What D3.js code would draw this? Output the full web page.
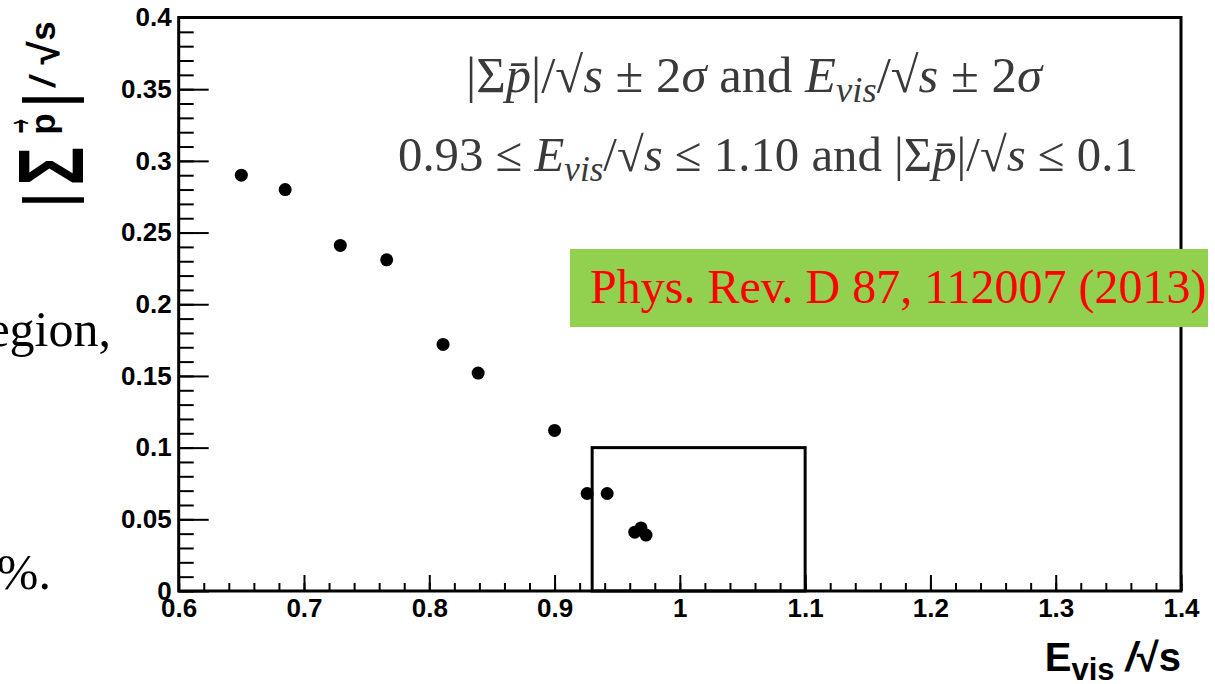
<!DOCTYPE html>
<html lang="en">
<head>
<meta charset="UTF-8">
<title>Evis vs |sum p|</title>
<script src="https://d3js.org/d3.v7.min.js"></script>
<style>
  body { margin: 0; background: #fff; }
  svg { display: block; }
  .tick text { font-family: "Liberation Sans", Arial, sans-serif; font-weight: bold; font-size: 26px; fill: #000; }
  .tick line { stroke: #000; stroke-width: 2; }
  .serif { font-family: "Liberation Serif", "Times New Roman", serif; }
  .sans { font-family: "Liberation Sans", Arial, sans-serif; font-weight: bold; }
</style>
</head>
<body>
<script>
    const width = 1215;
    const height = 684;

    // values
    const evis = [0.650, 0.685, 0.729, 0.766, 0.811, 0.839, 0.900, 0.926, 0.942, 0.964, 0.969, 0.973];
    const psum = [0.290, 0.280, 0.241, 0.231, 0.172, 0.152, 0.112, 0.068, 0.068, 0.041, 0.044, 0.039];
    const cutEvis = [0.93, 1.10];
    const cutPsum = [0, 0.1];
    const xTicks = [0.6, 0.7, 0.8, 0.9, 1.0, 1.1, 1.2, 1.3, 1.4];
    const yTicks = [0, 0.05, 0.1, 0.15, 0.2, 0.25, 0.3, 0.35, 0.4];
    const xMinor = d3.range(30, 71).map(i => i / 50);
    const yMinor = d3.range(0, 41).map(i => i / 100);

    const svg = d3.select("body").append("svg")
            .attr("width", width).attr("height", height);

    const x = d3.scaleLinear().domain([0.6, 1.4]).range([178.7, 1181]);
    const y = d3.scaleLinear().domain([0, 0.4]).range([591, 17.5]);

    const fmt = d => String(+d.toFixed(2));

    // slide text cut by the left edge
    svg.append("text").attr("class", "serif")
            .attr("x", 111).attr("y", 346)
            .attr("text-anchor", "end")
            .style("font-size", "50px")
            .text("region,");
    svg.append("text").attr("class", "serif")
            .attr("x", 51).attr("y", 589)
            .attr("text-anchor", "end")
            .style("font-size", "50px")
            .text("%.");

    // minor ticks
    svg.append("g").attr("transform", `translate(${x(0.6)},0)`)
            .call(d3.axisLeft(y).tickValues(yMinor).tickSize(-15).tickFormat(""))
            .call(g => g.select(".domain").remove());
    svg.append("g").attr("transform", `translate(0,${y(0)})`)
            .call(d3.axisBottom(x).tickValues(xMinor).tickSize(-8).tickFormat(""))
            .call(g => g.select(".domain").remove());

    // major ticks + labels
    svg.append("g").attr("transform", `translate(${x(0.6)},0)`)
            .call(d3.axisLeft(y).tickValues(yTicks).tickSize(-30).tickPadding(7).tickFormat(fmt))
            .call(g => g.select(".domain").remove());
    svg.append("g").attr("transform", `translate(0,${y(0)})`)
            .call(d3.axisBottom(x).tickValues(xTicks).tickSize(-16).tickPadding(8).tickFormat(fmt))
            .call(g => g.select(".domain").remove());

    // frame
    svg.append("rect")
            .attr("x", x(0.6)).attr("y", y(0.4))
            .attr("width", x(1.4) - x(0.6)).attr("height", y(0) - y(0.4))
            .style("fill", "none").style("stroke", "#000").style("stroke-width", 3);

    // cut box
    svg.append("rect")
            .attr("x", x(cutEvis[0])).attr("y", y(cutPsum[1]))
            .attr("width", x(cutEvis[1]) - x(cutEvis[0]))
            .attr("height", y(cutPsum[0]) - y(cutPsum[1]))
            .style("fill", "none").style("stroke", "#000").style("stroke-width", 3);

    // points
    svg.selectAll("circle.pt")
            .data(d3.zip(evis, psum))
            .enter().append("circle")
            .attr("class", "pt")
            .attr("cx", d => x(d[0]))
            .attr("cy", d => y(d[1]))
            .attr("r", 6.5)
            .style("fill", "#000");

    // latex-like annotation lines, font size fitted to the target width
    function mathLine(xs, yb, target, parts) {
        const t = svg.append("text").attr("class", "serif")
                .attr("x", xs).attr("y", yb)
                .style("font-size", "34px").style("fill", "#3a3a3a");
        parts.forEach(p => {
            const s = t.append("tspan").text(p[0]);
            if (p[1] === "i") s.style("font-style", "italic");
            if (p[1] === "sub") s.style("font-style", "italic").style("font-size", "72%").attr("dy", "0.28em");
            if (p[1] === "up") s.attr("dy", "-0.2em");
        });
        const w = t.node().getComputedTextLength();
        t.style("font-size", (34 * target / w) + "px");
    }

    mathLine(466, 92, 576, [
        ["|Σ"], ["p̄", "i"], ["|/√"], ["s", "i"], [" ± 2"], ["σ", "i"],
        ["  and "], ["E", "i"], ["vis", "sub"], ["/√", "up"], ["s", "i"], [" ± 2"], ["σ", "i"]
    ]);
    mathLine(398, 171, 740, [
        ["0.93 ≤ "], ["E", "i"], ["vis", "sub"], ["/√", "up"], ["s", "i"], [" ≤ 1.10 and |Σ"],
        ["p̄", "i"], ["|/√"], ["s", "i"], [" ≤ 0.1"]
    ]);

    // reference label
    svg.append("rect")
            .attr("x", 570).attr("y", 249)
            .attr("width", 638).attr("height", 78)
            .style("fill", "#92d050");
    svg.append("text").attr("class", "serif")
            .attr("x", 590).attr("y", 303)
            .style("font-size", "48px").style("fill", "#ff0000")
            .text("Phys. Rev. D 87, 112007 (2013)");

    // x axis title
    const xt = svg.append("text").attr("class", "sans")
            .attr("x", 1181).attr("y", 671)
            .attr("text-anchor", "end")
            .style("font-size", "40px");
    xt.append("tspan").text("E");
    xt.append("tspan").attr("dy", 9).style("font-size", "31px").text("vis");
    xt.append("tspan").attr("dy", -9).text(" ");
    xt.append("tspan").style("font-style", "italic").text("/");
    xt.append("tspan").text("√s");

    // y axis title, rotated; glyphs placed along the text direction (u) with a baseline offset (v)
    const yTitle = [
        {t: "|", u: 0, v: 15, size: 67, w: "normal", it: false, sx: 1, sy: 1},
        {t: "Σ", u: 34, v: 28, size: 64, w: "bold", it: false, sx: 1, sy: 1.45},
        {t: "p", u: 76, v: 0, size: 35, w: "bold", it: false, sx: 1, sy: 1},
        {t: "→", u: 74, v: -25, size: 34, w: "bold", it: false, sx: 0.6, sy: 1.6},
        {t: "|", u: 100, v: 15, size: 67, w: "normal", it: false, sx: 1, sy: 1},
        {t: "/", u: 118, v: 0, size: 35, w: "bold", it: true, sx: 1, sy: 1},
        {t: "√", u: 147, v: 4, size: 42, w: "bold", it: false, sx: 1, sy: 1},
        {t: "s", u: 169, v: 0, size: 35, w: "bold", it: false, sx: 1, sy: 1}
    ];
    const yg = svg.append("g").attr("transform", "translate(55,200) rotate(-90)");
    yg.selectAll("text").data(yTitle).enter().append("text")
            .attr("transform", d => `translate(${d.u},${d.v}) scale(${d.sx},${d.sy})`)
            .attr("text-anchor", "middle")
            .style("font-family", "'Liberation Sans', Arial, sans-serif")
            .style("font-weight", d => d.w)
            .style("font-style", d => d.it ? "italic" : "normal")
            .style("font-size", d => d.size + "px")
            .style("stroke", d => d.t === "→" ? "#000" : "none")
            .style("stroke-width", d => d.t === "→" ? 1 : 0)
            .text(d => d.t);
</script>
</body>
</html>
